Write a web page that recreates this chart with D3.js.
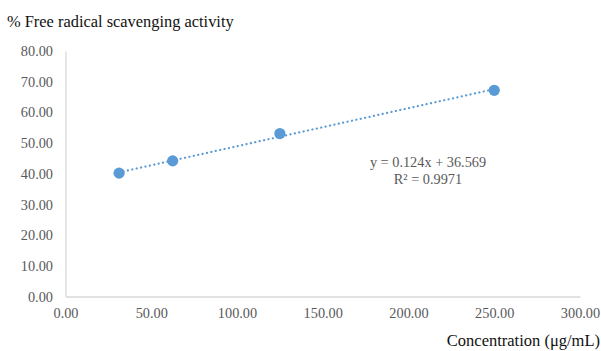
<!DOCTYPE html>
<html>
<head>
<meta charset="utf-8">
<script src="https://cdn.jsdelivr.net/npm/d3@7"></script>
<style>
  html, body { margin: 0; padding: 0; background: #fff; }
  svg { display: block; }
  text { font-family: "Liberation Serif", "Times New Roman", serif; }
</style>
</head>
<body>
<svg id="chart" width="601" height="351"></svg>
<script>
// Concentration (µg/mL) and measured scavenging activity (%)
const concentrations = [31.25, 62.5, 125, 250];
const activity = [40.2, 44.2, 53.1, 67.2];

// Linear trendline reported for the series
const slope = 0.124;
const intercept = 36.569;
const rSquared = 0.9971;

const xTicks = [0, 50, 100, 150, 200, 250, 300];
const yTicks = [0, 10, 20, 30, 40, 50, 60, 70, 80];

const svg = d3.select("#chart");
const plotLeft = 65.5, plotRight = 580, plotTop = 51, plotBottom = 296.5;

const x = d3.scaleLinear().domain([0, 300]).range([plotLeft, plotRight]);
const y = d3.scaleLinear().domain([0, 80]).range([plotBottom, plotTop]);

const axisColor = "#d9d9d9";
const labelColor = "#595959";
const tickFont = 14.3;

// Y axis
const yAxis = svg.append("g")
  .attr("transform", `translate(${plotLeft},0)`)
  .call(d3.axisLeft(y).tickValues(yTicks).tickSize(0).tickPadding(12.5).tickFormat(d3.format(".2f")));
yAxis.select(".domain").attr("stroke", axisColor).attr("stroke-width", 1.3);
yAxis.selectAll("text").attr("fill", labelColor).attr("font-size", tickFont)
  .attr("font-family", "Liberation Serif, serif");

// X axis
const xAxis = svg.append("g")
  .attr("transform", `translate(0,${plotBottom})`)
  .call(d3.axisBottom(x).tickValues(xTicks).tickSize(0).tickPadding(11.3).tickFormat(d3.format(".2f")));
xAxis.select(".domain").attr("stroke", axisColor).attr("stroke-width", 1.3);
xAxis.selectAll("text").attr("fill", labelColor).attr("font-size", tickFont)
  .attr("font-family", "Liberation Serif, serif");

// Trendline over the data range
const xMin = d3.min(concentrations), xMax = d3.max(concentrations);
svg.append("line")
  .attr("x1", x(xMin)).attr("y1", y(slope * xMin + intercept))
  .attr("x2", x(xMax)).attr("y2", y(slope * xMax + intercept))
  .attr("stroke", "#5b9bd5")
  .attr("stroke-width", 2.2)
  .attr("stroke-linecap", "round")
  .attr("stroke-dasharray", "0.1 4.4");

// Data markers
svg.append("g").selectAll("circle")
  .data(concentrations.map((c, i) => [c, activity[i]]))
  .join("circle")
  .attr("cx", d => x(d[0]))
  .attr("cy", d => y(d[1]))
  .attr("r", 5.6)
  .attr("fill", "#5b9bd5");

// Equation label
const eq = svg.append("g").attr("fill", labelColor).attr("font-size", tickFont).attr("text-anchor", "middle");
eq.append("text").attr("x", 428).attr("y", 166.5)
  .text(`y = ${slope}x + ${intercept}`);
eq.append("text").attr("x", 428).attr("y", 184)
  .text(`R² = ${rSquared}`);

// Axis titles
svg.append("text")
  .attr("x", 7).attr("y", 26.5)
  .attr("font-size", 16.4)
  .attr("fill", "#111")
  .text("% Free radical scavenging activity");

svg.append("text")
  .attr("x", 600).attr("y", 346)
  .attr("text-anchor", "end")
  .attr("font-size", 16.5)
  .attr("fill", "#111")
  .text("Concentration (μg/mL)");
</script>
</body>
</html>
